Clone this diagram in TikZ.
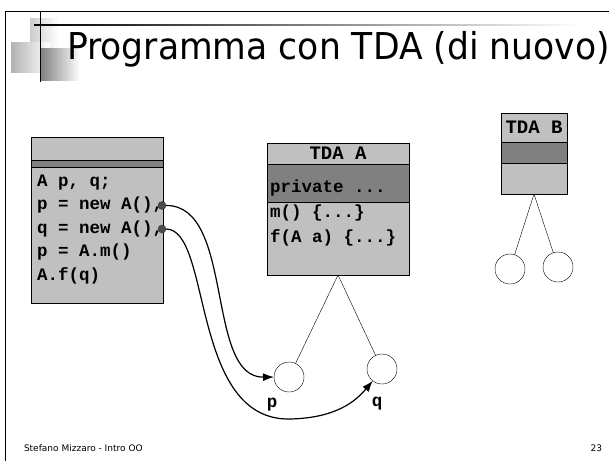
\documentclass[tikz,border=0pt]{standalone}
\usepackage{fontspec}
\setmainfont{DejaVu Sans}
\newfontfamily\codefont{Liberation Mono}
\usetikzlibrary{arrows.meta, calc, positioning}
\definecolor{boxlight}{RGB}{192,192,192}
\definecolor{boxdark}{RGB}{128,128,128}

\begin{document}
\begin{tikzpicture}[x=1pt, y=-1pt,
every node/.style = {inner sep=0pt, outer sep=0pt},
box/.style  = {draw, fill=boxlight, anchor=north west},
bar/.style  = {draw, fill=boxdark, anchor=north west},
code/.style = {font=\codefont\bfseries\fontsize{17.5}{17.5}\selectfont,
               text height=12pt, text depth=4pt},
head/.style = {box, font=\codefont\bfseries\fontsize{19}{19}\selectfont},
line/.style = {code, anchor=west},
obj/.style  = {circle, draw, fill=white, minimum size=30pt},
dot/.style  = {circle, draw=black!80, fill=black!70, minimum size=8pt},
ref/.style  = {-{Latex[length=11pt,width=8pt]}, line width=1.2pt},
                    ]
\useasboundingbox (0,0) rectangle (609,461);
%--- slide frame and title
\shade[left color=black!20, right color=white] (30,18) rectangle (58,50);
\shade[left color=black!30, right color=white] (11,42) rectangle (50,72);
\shade[left color=black!50, right color=white] (40,48) rectangle (80,80);
\shade[left color=black, right color=white] (34,24.3) rectangle (580,25.8);
\draw[thick] (5,461) -- (5,11) -- (609,11);
\draw[semithick] (40,11) -- (40,82);
\node (title) [anchor=west, font=\fontsize{37}{37}\selectfont, xscale=0.935, transform shape]
      at (67,49) {Programma con TDA (di nuovo)};
\node (author) [anchor=west, font=\fontsize{9}{9}\selectfont] at (24,448)
      {Stefano Mizzaro - Intro OO};
\node (page) [anchor=east, font=\fontsize{9}{9}\selectfont] at (602,448) {23};

%--- program
\node (prog) [box, minimum width=132pt, minimum height=166pt] at (31,137) {};
\node (progbar) [bar, minimum width=132pt, minimum height=7pt] at (31,160) {};
\node (l1) [line] at (37,182) {A p, q;};
\node (l2) [line, below=7.5pt of l1.south west, anchor=north west] {p = new A(),};
\node (l3) [line, below=7.5pt of l2.south west, anchor=north west] {q = new A(),};
\node (l4) [line, below=7.5pt of l3.south west, anchor=north west] {p = A.m()};
\node (l5) [line, below=7.5pt of l4.south west, anchor=north west] {A.f(q)};
\node (dp) [dot] at ([xshift=-1pt]prog.east |- l2) {};
\node (dq) [dot] at ([xshift=-1pt]prog.east |- l3) {};

%--- TDA A
\node (tdaA) [box, minimum width=142pt, minimum height=132pt] at (267,143) {};
\node (tdaAhead) [head, minimum width=142pt, minimum height=21pt] at (267,143) {TDA A};
\node (tdaApriv) [bar, minimum width=142pt, minimum height=38pt] at (267,164) {};
\node (priv) [line] at (270,188) {private ...};
\node (mA) [line] at (270,213) {m() \{...\}};
\node (fA) [line] at (270,238) {f(A a) \{...\}};
\node (objp) [obj] at (289,377) {};
\node (objq) [obj] at (382,369) {};
\node (labp) [code] at (272,403) {p};
\node (labq) [code] at (377,402) {q};
\draw (tdaA.south) -- (objp) (tdaA.south) -- (objq);

%--- TDA B
\node (tdaB) [box, minimum width=66pt, minimum height=81pt] at (501,113) {};
\node (tdaBhead) [head, minimum width=66pt, minimum height=29pt] at (501,113) {TDA B};
\node (tdaBpriv) [bar, minimum width=66pt, minimum height=21pt] at (501,142) {};
\node (objb1) [obj] at (510,269) {};
\node (objb2) [obj] at (558,267) {};
\draw (tdaB.south) -- (objb1) (tdaB.south) -- (objb2);

%--- references
\draw[ref] (dp) .. controls (235,205) and (205,378) .. (objp.west);
\draw[ref] (dq) .. controls (212,229) and (190,421) .. (290,419)
                .. controls (335,418) and (355,402) .. (objq.-128);
\end{tikzpicture}
\end{document}
